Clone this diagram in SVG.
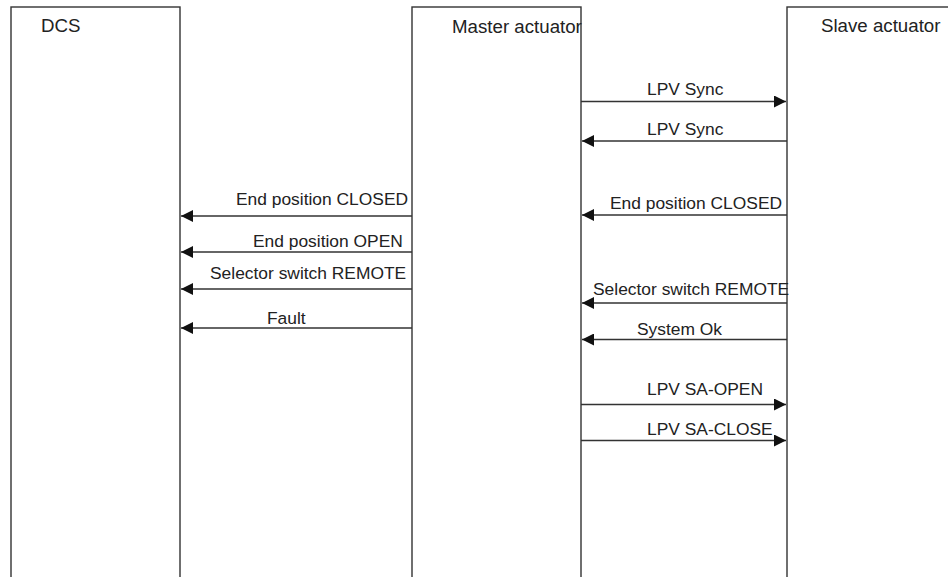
<svg xmlns="http://www.w3.org/2000/svg" width="948" height="577" viewBox="0 0 948 577">
<style>
.box{fill:#fff;stroke:#333;stroke-width:1.4}
.lbl{font-family:"Liberation Sans",Arial,sans-serif;font-size:17.4px;fill:#222}
.ttl{font-family:"Liberation Sans",Arial,sans-serif;font-size:18.7px;fill:#222}
.msg{stroke:#333;stroke-width:1.6;fill:none}
</style>
<defs>
<marker id="ah" viewBox="0 0 12 12" refX="12" refY="6" markerWidth="12" markerHeight="12" markerUnits="userSpaceOnUse" orient="auto">
<path d="M0,0 L12,6 L0,12 Z" fill="#111"/>
</marker>
</defs>
<rect width="948" height="577" fill="#fff"/>
<g id="dcs">
<rect class="box" x="11" y="7" width="169" height="600"/>
<text class="ttl" x="41" y="32">DCS</text>
</g>
<g id="master">
<rect class="box" x="412" y="7" width="169" height="600"/>
<text class="ttl" x="452" y="33">Master actuator</text>
</g>
<g id="slave">
<rect class="box" x="787" y="7" width="200" height="600"/>
<text class="ttl" x="821" y="32">Slave actuator</text>
</g>
<g id="connectors">
<line class="msg" x1="581" y1="101.5" x2="786" y2="101.5" marker-end="url(#ah)"/>
<line class="msg" x1="787" y1="141" x2="582" y2="141" marker-end="url(#ah)"/>
<line class="msg" x1="787" y1="215" x2="582" y2="215" marker-end="url(#ah)"/>
<line class="msg" x1="787" y1="303" x2="582" y2="303" marker-end="url(#ah)"/>
<line class="msg" x1="787" y1="339.5" x2="582" y2="339.5" marker-end="url(#ah)"/>
<line class="msg" x1="581" y1="404.5" x2="786" y2="404.5" marker-end="url(#ah)"/>
<line class="msg" x1="581" y1="440.5" x2="786" y2="440.5" marker-end="url(#ah)"/>
<line class="msg" x1="412" y1="216" x2="181" y2="216" marker-end="url(#ah)"/>
<line class="msg" x1="412" y1="252" x2="181" y2="252" marker-end="url(#ah)"/>
<line class="msg" x1="412" y1="289" x2="181" y2="289" marker-end="url(#ah)"/>
<line class="msg" x1="412" y1="328" x2="181" y2="328" marker-end="url(#ah)"/>
<text class="lbl" x="647" y="95">LPV Sync</text>
<text class="lbl" x="647" y="135">LPV Sync</text>
<text class="lbl" x="610" y="209">End position CLOSED</text>
<text class="lbl" x="593" y="295">Selector switch REMOTE</text>
<text class="lbl" x="637" y="335">System Ok</text>
<text class="lbl" x="647" y="395">LPV SA-OPEN</text>
<text class="lbl" x="647" y="435">LPV SA-CLOSE</text>
<text class="lbl" x="236" y="205">End position CLOSED</text>
<text class="lbl" x="253" y="247">End position OPEN</text>
<text class="lbl" x="210" y="279">Selector switch REMOTE</text>
<text class="lbl" x="267" y="324">Fault</text>
</g>
</svg>
